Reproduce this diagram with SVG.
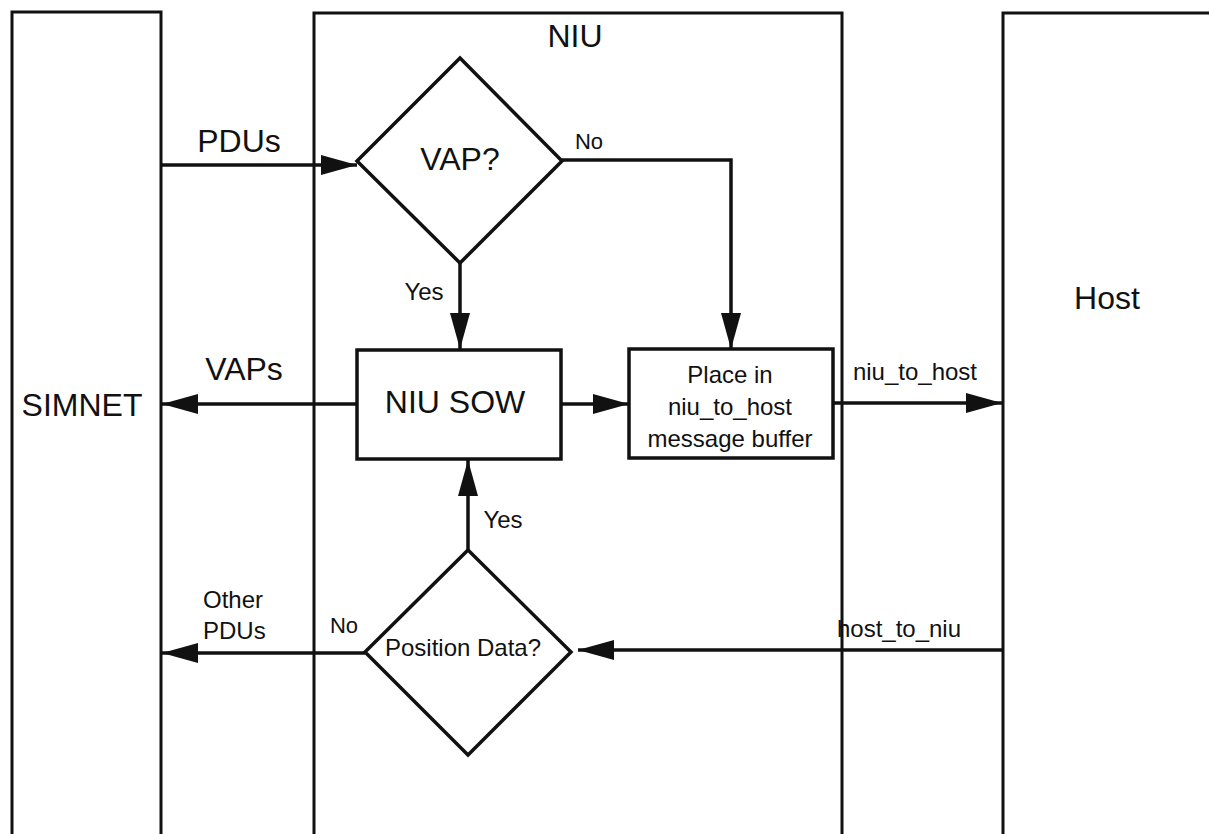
<svg xmlns="http://www.w3.org/2000/svg" width="1209" height="834" viewBox="0 0 1209 834">
<defs>
<style>
.lane{fill:none;stroke:#111;stroke-width:3}
.shape{fill:#fff;stroke:#111;stroke-width:3.5}
.conn{fill:none;stroke:#111;stroke-width:3.5}
text{font-family:"Liberation Sans",Arial,sans-serif;fill:#111}
.big{font-size:32px}
.sm{font-size:24px}
.xs{font-size:22px}
</style>
<marker id="ah" markerUnits="userSpaceOnUse" markerWidth="38" markerHeight="22" refX="36" refY="10" orient="auto">
<path d="M0,0 L36,10 L0,20 z" fill="#111"/>
</marker>
</defs>
<rect width="1209" height="834" fill="#fff"/>
<g id="simnet">
<path class="lane" d="M12,834 V12 H161 V834"/>
<text class="big" x="82" y="416" text-anchor="middle">SIMNET</text>
</g>
<g id="niu">
<path class="lane" d="M314,834 V13 H842 V834"/>
<text class="big" x="575" y="47" text-anchor="middle">NIU</text>
</g>
<g id="host">
<path class="lane" d="M1003,834 V13 H1209"/>
<text class="big" x="1107" y="309" text-anchor="middle">Host</text>
</g>
<g id="vap-decision">
<polygon class="shape" points="460,58 562,161 460,263 357,161"/>
<text class="big" x="460" y="170" text-anchor="middle">VAP?</text>
</g>
<g id="niu-sow">
<rect class="shape" x="357" y="350" width="204" height="109"/>
<text class="big" x="455" y="413" text-anchor="middle">NIU SOW</text>
</g>
<g id="place-buffer">
<rect class="shape" x="629" y="349" width="204" height="109"/>
<text class="sm" x="730" y="383" text-anchor="middle">Place in</text>
<text class="sm" x="730" y="415" text-anchor="middle">niu_to_host</text>
<text class="sm" x="730" y="447" text-anchor="middle">message buffer</text>
</g>
<g id="position-decision">
<polygon class="shape" points="468,550 571,652 468,755 365,652"/>
<text class="sm" x="463" y="656" text-anchor="middle">Position Data?</text>
</g>
<g id="connectors">
<path class="conn" d="M161,165 H357" marker-end="url(#ah)"/>
<text class="big" x="239" y="152" text-anchor="middle">PDUs</text>
<path class="conn" d="M562,160 H731 V349" marker-end="url(#ah)"/>
<text class="xs" x="589" y="149" text-anchor="middle">No</text>
<path class="conn" d="M460,263 V349" marker-end="url(#ah)"/>
<text class="sm" x="424" y="300" text-anchor="middle">Yes</text>
<path class="conn" d="M357,404 H162" marker-end="url(#ah)"/>
<text class="big" x="244" y="380" text-anchor="middle">VAPs</text>
<path class="conn" d="M561,404 H629" marker-end="url(#ah)"/>
<path class="conn" d="M833,403 H1002" marker-end="url(#ah)"/>
<text class="sm" x="915" y="380" text-anchor="middle">niu_to_host</text>
<path class="conn" d="M468,550 V460" marker-end="url(#ah)"/>
<text class="sm" x="503" y="528" text-anchor="middle">Yes</text>
<path class="conn" d="M365,653 H162" marker-end="url(#ah)"/>
<text class="xs" x="344" y="633" text-anchor="middle">No</text>
<text class="sm" x="203" y="608">Other</text>
<text class="sm" x="203" y="639">PDUs</text>
<path class="conn" d="M1003,650 H578" marker-end="url(#ah)"/>
<text class="sm" x="899" y="637" text-anchor="middle">host_to_niu</text>
</g>
</svg>
